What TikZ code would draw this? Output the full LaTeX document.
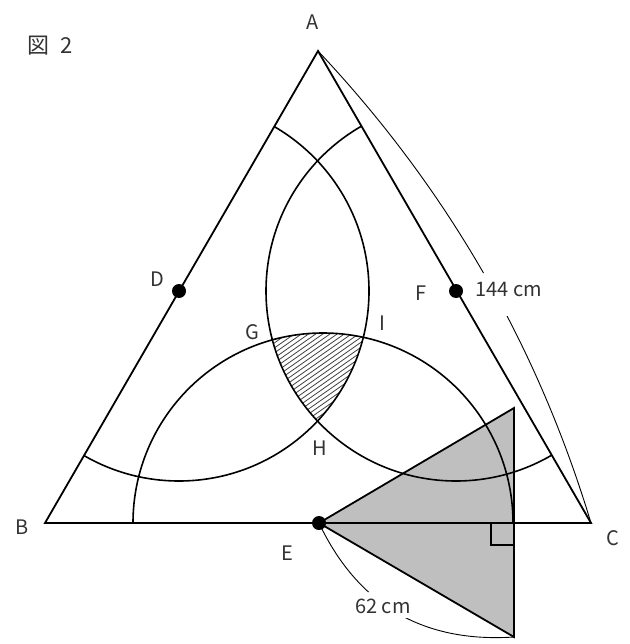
\documentclass[tikz,border=0pt]{standalone}
\usepackage{fontspec}
\setmainfont{Noto Sans CJK JP}
\begin{document}
\begin{tikzpicture}[x=1pt,y=-1pt,
  lbl/.style={font=\fontsize{20}{20}\selectfont, text=black!80, inner sep=0pt},
  side/.style={line width=1.8pt, line join=miter},
  arcline/.style={line width=1.6pt},
  dimline/.style={line width=0.9pt},
  hatchline/.style={line width=0.8pt, black!75},
  dot/.style={circle, fill=black, inner sep=0pt, minimum size=14pt}]
\useasboundingbox (0,0) rectangle (629,644);
% main points
\coordinate (A) at (318,51);
\coordinate (B) at (45,523);
\coordinate (C) at (591,523);
\coordinate (Dc) at (179,291);
\coordinate (Fc) at (456,291);
\coordinate (Ec) at (323,523);
\coordinate (E) at (319,523);
\coordinate (P) at (514,408);
\coordinate (Q) at (514,637);
\coordinate (R1) at (491,523);
\coordinate (R2) at (491,545);
\coordinate (R3) at (514,545);
% grey triangle fill
\fill[black!25] (E) -- (P) -- (Q) -- cycle;
% hatched region
\begin{scope}
  \clip (Dc) circle[radius=190pt];
  \clip (Ec) circle[radius=190pt];
  \clip (Fc) circle[radius=190pt];
  \foreach \k in {0,...,36} \draw[hatchline] (250,340+5*\k) -- ++(140,-98);
\end{scope}
% arcs (circles clipped to the triangle)
\begin{scope}
  \clip (A) -- (B) -- (C) -- cycle;
  \draw[arcline] (Dc) circle[radius=190pt];
  \draw[arcline] (Fc) circle[radius=190pt];
  \draw[arcline] (Ec) circle[radius=190pt];
\end{scope}
% grey triangle outline and right angle
\draw[side] (E) -- (P) -- (Q) -- cycle;
\draw[side] (R1) -- (R2) -- (R3);
% main triangle
\draw[side] (A) -- (B) -- (C) -- cycle;
% dimension curves
\begin{scope}[even odd rule]
  \clip (0,0) rectangle (629,644) (470,273) rectangle (548,316);
  \draw[dimline] (A) .. controls (446,187) and (537,344) .. (C);
\end{scope}
\begin{scope}[even odd rule]
  \clip (0,0) rectangle (629,644) (352,592) rectangle (414,618);
  \draw[dimline] (E) .. controls (358,605) and (423,643) .. (Q);
\end{scope}
% dots
\node[dot] (D) at (Dc) {};
\node[dot] (F) at (Fc) {};
\node[dot] (Edot) at (E) {};
% labels
\node[lbl, font=\fontsize{22}{22}\selectfont] (fig) at (50,46) {図\hspace{0.5em}2};
\node[lbl] (lA) at (313,22) {A};
\node[lbl] (lB) at (22,527) {B};
\node[lbl] (lC) at (613,538) {C};
\node[lbl] (lD) at (157,279) {D};
\node[lbl] (lE) at (287,553) {E};
\node[lbl] (lF) at (421,293) {F};
\node[lbl] (lG) at (252,332) {G};
\node[lbl] (lH) at (320,448) {H};
\node[lbl] (lI) at (382,323) {I};
\node[lbl] (l144) at (509,289) {144 cm};
\node[lbl] (l62) at (383,606) {62 cm};
\end{tikzpicture}
\end{document}
